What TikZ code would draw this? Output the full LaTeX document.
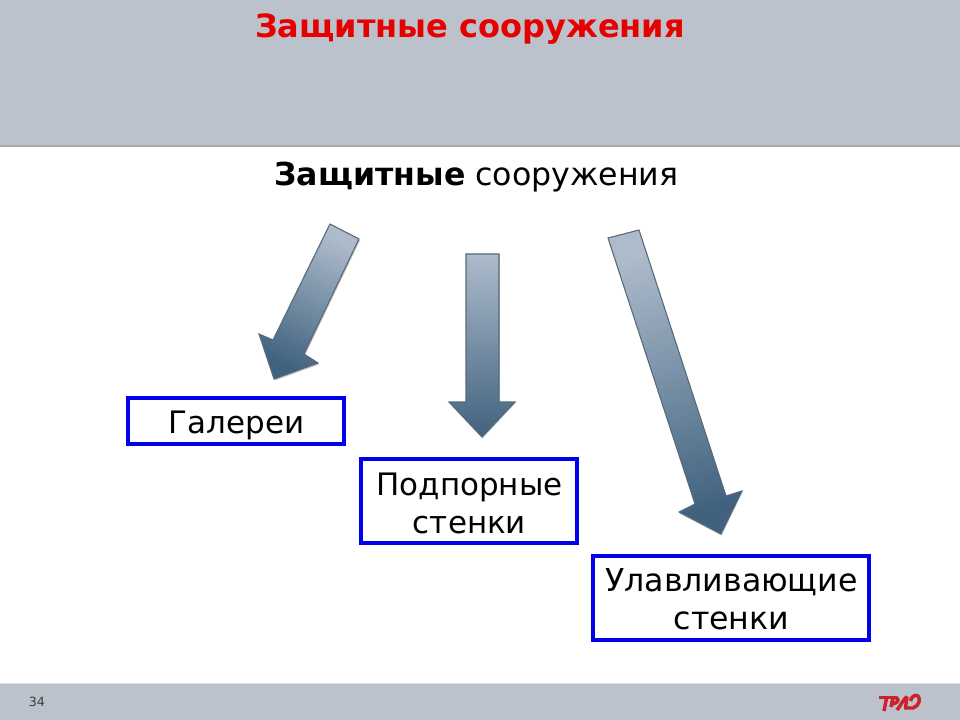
\documentclass[tikz,border=0pt]{standalone}
\usepackage{fontspec}
\setmainfont{DejaVu Sans}
\definecolor{band}{HTML}{BBC2CC}
\definecolor{bandline}{HTML}{A8A8A8}
\definecolor{bluebox}{HTML}{0000EA}
\definecolor{arrtop}{HTML}{ADBBCB}
\definecolor{arrbot}{HTML}{41627F}
\definecolor{arredge}{HTML}{566978}
\definecolor{logored}{HTML}{CE2029}
\definecolor{titlered}{HTML}{E60000}
\tikzset{
  labelbox/.style={draw=bluebox,line width=2.8pt,fill=white,inner sep=0pt},
  labeltext/.style={inner sep=0pt,align=center,font=\fontsize{23.2}{28.5}\selectfont,text=black},
  bigarrow/.style={top color=arrtop,bottom color=arrbot,draw=arredge,line width=0.8pt,line join=miter},
  arrowshadow/.style={fill=black!40,opacity=.55},
  logostroke/.style={draw=logored,line width=2.6pt,line join=round}
}
\begin{document}
\begin{tikzpicture}[x=0.75pt,y=-0.75pt]
\useasboundingbox (0,0) rectangle (960,720);
\fill[white] (0,0) rectangle (960,720);
% bands
\fill[band] (0,0) rectangle (960,145);
\fill[bandline] (0,145) rectangle (960,147.5);
\fill[band] (0,684) rectangle (960,720);
\fill[black!12] (0,683) rectangle (960,684);
% titles
\node[anchor=center,text=titlered,font=\fontsize{24}{28}\selectfont\bfseries] (title) at (470,29) {Защитные сооружения};
\node[anchor=center,font=\fontsize{23.7}{28}\selectfont] (subtitle) at (476.5,177) {\textbf{Защитные} сооружения};
% arrows
\fill[arrowshadow] (331,225.5)--(360,240.5)--(305,355.5)--(319,364.5)--(275,380.5)--(260,335.5)--(274,341.5)--cycle;
\shade[bigarrow,shading angle=-26] (330,224)--(359,239)--(304,354)--(318,363)--(274,379)--(259,334)--(273,340)--cycle;
\fill[arrowshadow] (466.5,255)--(499.5,255)--(499.5,403)--(515.5,403)--(482.5,438.5)--(449.5,403)--(466.5,403)--cycle;
\shade[bigarrow] (466,254)--(499,254)--(499,402)--(515,402)--(482,437)--(449,402)--(466,402)--cycle;
\fill[arrowshadow] (608.5,239)--(639.5,231)--(726.5,497)--(742.5,492)--(721.5,535.5)--(679.5,513.5)--(695.5,505)--cycle;
\shade[bigarrow,shading angle=18] (608,238)--(639,230)--(726,496)--(742,491)--(721,534)--(679,512)--(695,504)--cycle;
% boxes
\node[labelbox,minimum width=161.5pt,minimum height=35pt] (gal) at (236,421) {};
\node[labeltext] (galtext) at (236.5,425) {Галереи};
\node[labelbox,minimum width=162.5pt,minimum height=63pt] (pod) at (469,501) {};
\node[labeltext] (podtext) at (469.5,503) {Подпорные\\стенки};
\node[labelbox,minimum width=207.5pt,minimum height=63pt] (ulv) at (731,598) {};
\node[labeltext,font=\fontsize{23.7}{28.5}\selectfont] (ulvtext) at (731.5,599.5) {Улавливающие\\стенки};
% footer
\node[font=\fontsize{9.5}{11}\selectfont,text=black!75] (pagenum) at (37,702) {34};
% logo
\draw[logostroke] (879,697.5)--(893,697.5);
\draw[logostroke] (886.5,698)--(884,711);
\draw[logostroke] (893,698) .. controls (900,696) and (900,703) .. (892,704);
\draw[logostroke] (893,698)--(891,707);
\draw[logostroke] (897,710) .. controls (901,705) and (903,700) .. (907,696.5);
\draw[logostroke] (907,696.5)--(905.5,708)--(913,708) .. controls (919,706) and (921,699) .. (918,696) .. controls (915,694) and (911,697) .. (910.5,701);
\end{tikzpicture}
\end{document}
